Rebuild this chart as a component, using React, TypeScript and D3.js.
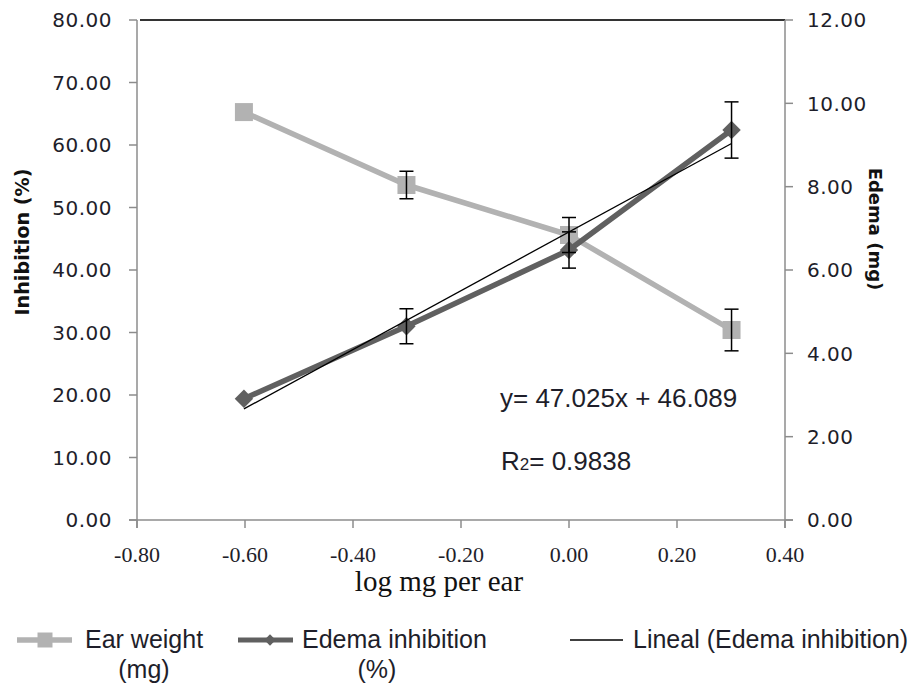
import React from "react";
import * as d3 from "d3";

const doses = [-0.602, -0.301, 0.0, 0.301];
const earWeight = [9.79, 8.04, 6.84, 4.56];
const earWeightErr = [0, 0.33, 0.42, 0.5];
const inhibition = [19.4, 31.0, 43.2, 62.4];
const inhibitionErr = [0, 2.8, 2.9, 4.5];
const slope = 47.025;
const intercept = 46.089;
const leftTicks = [0, 10, 20, 30, 40, 50, 60, 70, 80];
const rightTicks = [0, 2, 4, 6, 8, 10, 12];
const xTicks = [-0.8, -0.6, -0.4, -0.2, 0, 0.2, 0.4];

const W = 915;
const H = 693;

export default function App() {
  const x = d3.scaleLinear().domain([-0.8, 0.4]).range([137, 785]);
  const yL = d3.scaleLinear().domain([0, 80]).range([520, 20]);
  const yR = d3.scaleLinear().domain([0, 12]).range([520, 20]);

  const earLine = d3
    .line<number>()
    .x((_, i) => x(doses[i]))
    .y((d) => yR(d))(earWeight) as string;
  const inhLine = d3
    .line<number>()
    .x((_, i) => x(doses[i]))
    .y((d) => yL(d))(inhibition) as string;
  const trendX = [doses[0], doses[doses.length - 1]];
  const trend = d3
    .line<number>()
    .x((d) => x(d))
    .y((d) => yL(slope * d + intercept))(trendX) as string;

  const square = d3.symbol(d3.symbolSquare, 18 * 18)() as string;
  const diamond = d3.symbol(d3.symbolSquare, 13 * 13)() as string;
  const sqLegend = d3.symbol(d3.symbolSquare, 15 * 15)() as string;
  const dmLegend = d3.symbol(d3.symbolSquare, 8 * 8)() as string;

  const earColor = "#b2b2b2";
  const inhColor = "#606060";
  const axisColor = "#8c8c8c";
  const textColor = "#1e1e2a";
  const sansTick = "'DejaVu Sans', Verdana, sans-serif";
  const arial = "'Liberation Sans', Arial, sans-serif";
  const serif = "'Liberation Serif', 'Times New Roman', serif";

  const errBar = (cx: number, y0: number, y1: number, key: string) => (
    <g key={key} stroke="#000" strokeWidth={1.5}>
      <line x1={cx} x2={cx} y1={y0} y2={y1} />
      <line x1={cx - 7} x2={cx + 7} y1={y0} y2={y0} />
      <line x1={cx - 7} x2={cx + 7} y1={y1} y2={y1} />
    </g>
  );

  return (
    <svg
      width={W}
      height={H}
      style={{ position: "absolute", left: 0, top: 0, background: "#fff" }}
    >
      <rect width={W} height={H} fill="#fff" />
      {/* top border */}
      <line x1={140} x2={785} y1={20} y2={20} stroke="#333" strokeWidth={2} />
      {/* axes */}
      <line x1={137} x2={137} y1={20} y2={528} stroke={axisColor} strokeWidth={1.5} />
      <line x1={785} x2={785} y1={20} y2={528} stroke={axisColor} strokeWidth={1.5} />
      <line x1={129} x2={793} y1={520} y2={520} stroke={axisColor} strokeWidth={1.5} />
      {leftTicks.map((t) => (
        <g key={"l" + t}>
          <line x1={129} x2={137} y1={yL(t)} y2={yL(t)} stroke={axisColor} strokeWidth={1.5} />
          <text
            x={112}
            y={yL(t)}
            dy="0.36em"
            textAnchor="end"
            fontFamily={sansTick}
            fontSize={20}
            letterSpacing={0.5}
            fill={textColor}
          >
            {t.toFixed(2)}
          </text>
        </g>
      ))}
      {rightTicks.map((t) => (
        <g key={"r" + t}>
          <line x1={785} x2={793} y1={yR(t)} y2={yR(t)} stroke={axisColor} strokeWidth={1.5} />
          <text
            x={807}
            y={yR(t)}
            dy="0.36em"
            textAnchor="start"
            fontFamily={sansTick}
            fontSize={20}
            letterSpacing={0.5}
            fill={textColor}
          >
            {t.toFixed(2)}
          </text>
        </g>
      ))}
      {xTicks.map((t) => (
        <g key={"x" + t}>
          <line x1={x(t)} x2={x(t)} y1={520} y2={528} stroke={axisColor} strokeWidth={1.5} />
          <text
            x={x(t)}
            y={562}
            textAnchor="middle"
            fontFamily={serif}
            fontSize={22}
            fill={textColor}
          >
            {t.toFixed(2)}
          </text>
        </g>
      ))}
      {/* axis titles */}
      <text
        x={439}
        y={591}
        textAnchor="middle"
        fontFamily={serif}
        fontSize={29}
        fill="#111"
      >
        log mg per ear
      </text>
      <text
        transform="translate(29,242) rotate(-90)"
        textAnchor="middle"
        fontFamily={sansTick}
        fontWeight="bold"
        fontSize={20}
        textLength={147}
        lengthAdjust="spacingAndGlyphs"
        fill="#111"
      >
        Inhibition  (%)
      </text>
      <text
        transform="translate(869,229) rotate(90)"
        textAnchor="middle"
        fontFamily={sansTick}
        fontWeight="bold"
        fontSize={18}
        fill="#111"
      >
        Edema (mg)
      </text>

      {/* Ear weight series */}
      <path d={earLine} fill="none" stroke={earColor} strokeWidth={5.5} strokeLinejoin="round" />
      {earWeight.map((v, i) => (
        <path key={"sq" + i} d={square} transform={`translate(${x(doses[i])},${yR(v)})`} fill={earColor} />
      ))}
      {/* Edema inhibition series */}
      <path d={inhLine} fill="none" stroke={inhColor} strokeWidth={5.5} strokeLinejoin="round" />
      {inhibition.map((v, i) => (
        <path
          key={"dm" + i}
          d={diamond}
          transform={`translate(${x(doses[i])},${yL(v)}) rotate(45)`}
          fill={inhColor}
        />
      ))}
      {/* trendline */}
      <path d={trend} fill="none" stroke="#000" strokeWidth={1.3} />
      {/* error bars */}
      {earWeight.map((v, i) =>
        earWeightErr[i] > 0
          ? errBar(x(doses[i]), yR(v + earWeightErr[i]), yR(v - earWeightErr[i]), "ee" + i)
          : null
      )}
      {inhibition.map((v, i) =>
        inhibitionErr[i] > 0
          ? errBar(x(doses[i]), yL(v + inhibitionErr[i]), yL(v - inhibitionErr[i]), "ie" + i)
          : null
      )}

      {/* equation */}
      <text x={500} y={407} fontFamily={arial} fontSize={26} fill={textColor}>
        {`y= ${slope.toFixed(3)}x + ${intercept.toFixed(3)}`}
      </text>
      <text x={501} y={470} fontFamily={arial} fontSize={26} fill={textColor}>
        R<tspan fontSize={17}>2</tspan>= 0.9838
      </text>

      {/* legend */}
      <line x1={17} x2={72} y1={640} y2={640} stroke={earColor} strokeWidth={5.5} />
      <path d={sqLegend} transform="translate(45,640)" fill={earColor} />
      <text x={85} y={648} fontFamily={arial} fontSize={25} fill={textColor}>
        Ear weight
      </text>
      <text x={144} y={678} textAnchor="middle" fontFamily={arial} fontSize={25} fill={textColor}>
        (mg)
      </text>

      <line x1={238} x2={293} y1={640} y2={640} stroke={inhColor} strokeWidth={5} />
      <path d={dmLegend} transform="translate(270,640) rotate(45)" fill={inhColor} />
      <text x={302} y={648} fontFamily={arial} fontSize={25} fill={textColor}>
        Edema inhibition
      </text>
      <text x={377} y={678} textAnchor="middle" fontFamily={arial} fontSize={25} fill={textColor}>
        (%)
      </text>

      <line x1={570} x2={623} y1={640} y2={640} stroke="#000" strokeWidth={1.5} />
      <text x={633} y={648} fontFamily={arial} fontSize={25} fill={textColor}>
        Lineal (Edema inhibition)
      </text>
    </svg>
  );
}
